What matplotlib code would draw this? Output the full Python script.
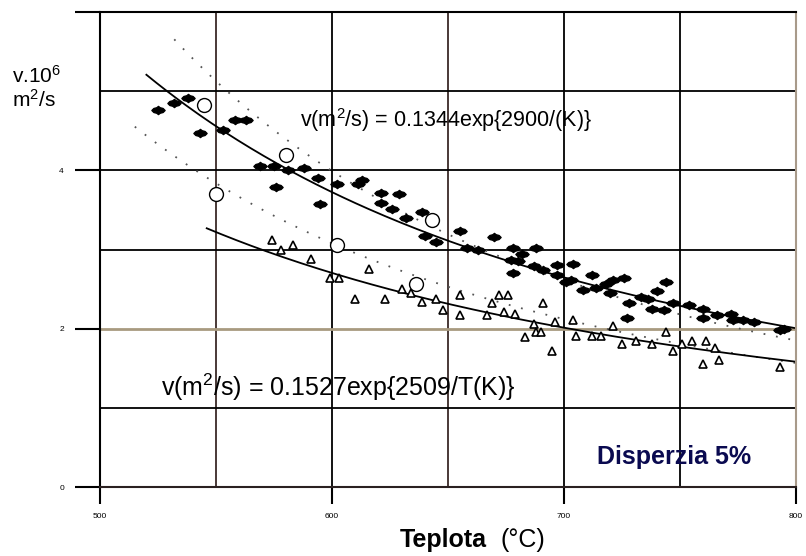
import matplotlib
matplotlib.use('Agg')
import matplotlib.pyplot as plt
import numpy as np
from matplotlib.path import Path

plt.rcParams['font.family'] = ['Liberation Sans', 'DejaVu Sans']
plt.rcParams['mathtext.fontset'] = 'custom'
plt.rcParams['mathtext.rm'] = 'Liberation Sans'
plt.rcParams['mathtext.it'] = 'Liberation Sans:italic'

# plne body (hlavna sada)
teplota_plne = [525, 532, 538, 543, 553, 558, 563, 569, 575, 581, 576, 588, 594, 595,
                602, 611, 613, 621, 629, 621, 626, 632, 639, 640, 645, 655, 658, 663,
                670, 678, 682, 688, 677, 680, 678, 687, 691, 697, 704, 697, 703, 701,
                708, 712, 714, 718, 721, 726, 720, 728, 727, 733, 736, 740, 744, 738,
                743, 747, 754, 760, 760, 766, 772, 773, 777, 782, 793, 795]
v_plne = [4.76, 4.85, 4.91, 4.47, 4.51, 4.64, 4.64, 4.06, 4.06, 4.00, 3.79, 4.03, 3.90, 3.57,
          3.83, 3.83, 3.88, 3.72, 3.70, 3.59, 3.51, 3.40, 3.48, 3.17, 3.09, 3.23, 3.02, 3.00,
          3.16, 3.02, 2.94, 3.02, 2.87, 2.85, 2.70, 2.79, 2.74, 2.81, 2.82, 2.68, 2.62, 2.59,
          2.49, 2.68, 2.51, 2.57, 2.62, 2.64, 2.45, 2.32, 2.13, 2.40, 2.38, 2.47, 2.59, 2.25,
          2.23, 2.32, 2.30, 2.25, 2.13, 2.17, 2.19, 2.11, 2.11, 2.08, 1.98, 2.00]

# trojuholniky (druha sada)
teplota_troj = [574, 578, 583, 591, 599, 603, 616, 610, 623, 630, 634, 639, 645, 655,
                672, 676, 669, 691, 655, 648, 667, 674, 679, 687, 688, 683, 690, 696,
                704, 705, 695, 712, 716, 721, 725, 731, 738, 744, 747, 751, 755, 761,
                765, 760, 767, 793]
v_troj = [3.12, 3.00, 3.06, 2.88, 2.64, 2.64, 2.76, 2.38, 2.38, 2.50, 2.45, 2.34, 2.37, 2.42,
          2.42, 2.42, 2.32, 2.32, 2.17, 2.23, 2.17, 2.21, 2.19, 2.06, 1.96, 1.89, 1.96, 2.08,
          2.11, 1.91, 1.72, 1.91, 1.91, 2.04, 1.81, 1.85, 1.81, 1.96, 1.72, 1.81, 1.85, 1.85,
          1.75, 1.55, 1.60, 1.51]

# kruzky
teplota_kruh = [545, 580, 643, 550, 602, 636]
v_kruh = [4.82, 4.20, 3.37, 3.70, 3.06, 2.57]

# parametre fitov v = a*exp(b/T[K])
fit_horny = (0.1344, 2900, 520)
fit_dolny = (0.1527, 2509, 546)
bodkovany_horny = (0.0646, 3600, 532)
bodkovany_dolny = (0.0820, 3165, 515)


def krivka(a, b, t0):
    t = np.linspace(t0, 800, 200)
    return t, a * np.exp(b / (t + 273.0))


# tvar plneho bodu
vert = [(-1, 0), (-0.7, 0.3), (-0.25, 0.42), (0, 0.62), (0.25, 0.42), (0.7, 0.3), (1, 0),
        (0.7, -0.3), (0.25, -0.42), (0, -0.62), (-0.25, -0.42), (-0.7, -0.3), (-1, 0)]
znacka = Path(vert, closed=True)

fig = plt.figure(figsize=(8.06, 5.56), dpi=100)
ax = fig.add_axes([100 / 806, 1 - 487 / 556, 696 / 806, 475 / 556])
ax.set_xlim(500, 800)
ax.set_ylim(0, 6)

# mriezka
for x in [550, 600, 650, 700, 750]:
    farba = '#3a2a28' if x in (550, 650) else 'black'
    ax.axvline(x, color=farba, lw=1.3, zorder=1)
for y in [1, 3, 4, 5]:
    ax.axhline(y, color='black', lw=1.3, zorder=1)
ax.axhline(2, color='#a89a80', lw=2, zorder=1)

for t0 in [bodkovany_horny, bodkovany_dolny]:
    t, v = krivka(*t0)
    ax.plot(t, v, color='#555555', lw=1.3, ls=(0, (1, 6)), zorder=2)
for t0 in [fit_horny, fit_dolny]:
    t, v = krivka(*t0)
    ax.plot(t, v, color='black', lw=1.3, zorder=2)

ax.plot(teplota_plne, v_plne, ls='none', marker=znacka, ms=9.5, color='black', zorder=3)
ax.plot(teplota_troj, v_troj, ls='none', marker='^', ms=6, mfc='white', mec='black',
        mew=1.2, zorder=3)
ax.plot(teplota_kruh, v_kruh, ls='none', marker='o', ms=10, mfc='white', mec='black',
        mew=1.0, zorder=3)

for s in ['left', 'top']:
    ax.spines[s].set_color('black')
    ax.spines[s].set_linewidth(1.5)
ax.spines['bottom'].set_color('#2a2020')
ax.spines['bottom'].set_linewidth(1.5)
ax.spines['right'].set_color('#a89a8a')
ax.spines['right'].set_linewidth(1.5)

ax.set_yticks([0, 2, 4, 6])
ax.set_yticklabels(['0', '2', '4', ''])
ax.set_xticks([500, 600, 700, 800])
ax.set_xticklabels(['500', '600', '700', '800'])
ax.tick_params(axis='y', direction='out', length=18, width=1.5, pad=8, labelsize=6)
ax.tick_params(axis='x', direction='out', length=12, width=1.5, pad=7, labelsize=6)
ax.get_yticklines()[4].set_color('#a89a80')

ax.text(0.287, 0.773, 'v(m$^2$/s) = 0.1344exp{2900/(K)}', transform=ax.transAxes,
        fontsize=15.5, va='center')
ax.text(0.087, 0.21, 'v(m$^2$/s) = 0.1527exp{2509/T(K)}', transform=ax.transAxes,
        fontsize=18, va='center')
ax.text(0.714, 0.063, 'Disperzia 5%', transform=ax.transAxes, fontsize=18,
        fontweight='bold', color='#0a0a50', va='center')

fig.text(400 / 806, 1 - 540 / 556, 'Teplota', fontsize=18, fontweight='bold',
         ha='left', va='center')
fig.text(500 / 806, 1 - 540 / 556, '(°C)', fontsize=18, ha='left', va='center')
fig.text(12 / 806, 1 - 76 / 556, 'v.10$^6$', fontsize=15, ha='left', va='center')
fig.text(12 / 806, 1 - 100 / 556, 'm$^2$/s', fontsize=15, ha='left', va='center')

fig.savefig('out.png', dpi=100)
